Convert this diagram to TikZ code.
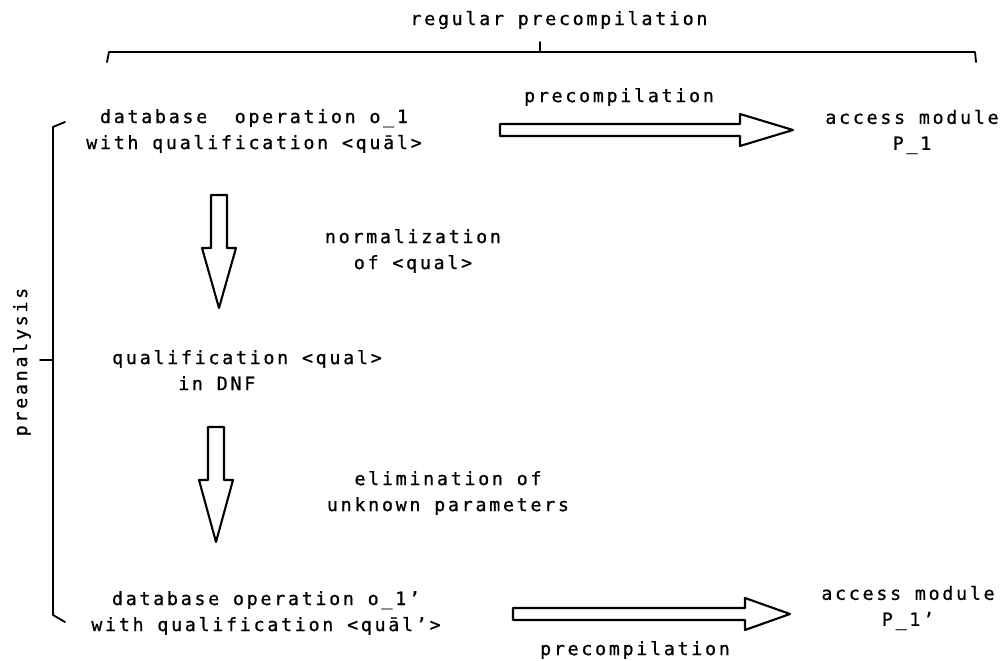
\documentclass[tikz,border=0pt]{standalone}
\usepackage{fontspec}
\setmonofont[LetterSpace=15, FakeBold=0.8]{DejaVu Sans Mono}
\usetikzlibrary{calc}
\tikzset{
	lbl/.style={font=\ttfamily\fontsize{13}{18.5}\selectfont, align=center, inner sep=0pt},
	fat/.style={line width=1.5pt, line join=round},
	brk/.style={line width=1.3pt, line join=round, line cap=round}
}
% hollow block arrows, from start point to tip, #3 = head length
\newcommand{\harrow}[3]{\draw[fat] ($(#1)+(0,-6)$) -- ($(#2)+(-#3,-6)$) -- ($(#2)+(-#3,-16)$) -- (#2) -- ($(#2)+(-#3,16)$) -- ($(#2)+(-#3,6)$) -- ($(#1)+(0,6)$) -- cycle;}
\newcommand{\varrow}[3]{\draw[fat] ($(#1)+(-8,0)$) -- ($(#2)+(-8,-#3)$) -- ($(#2)+(-17,-#3)$) -- (#2) -- ($(#2)+(17,-#3)$) -- ($(#2)+(8,-#3)$) -- ($(#1)+(8,0)$) -- cycle;}
\begin{document}
\begin{tikzpicture}[x=0.025cm, y=-0.025cm]
	\useasboundingbox (0,0) rectangle (1007,661);
	\node[lbl] (reg) at (559,20) {regular precompilation};
	\node[lbl] (op) at (254,131) {database\ \ operation o\_1\\with qualification <quāl>};
	\node[lbl] (acc) at (912,132) {access module\\P\_1};
	\node[lbl] (pre) at (619,97) {precompilation};
	\node[lbl] (norm) at (413,251) {normalization\\of <qual>};
	\node[lbl, align=left] (dnf) at (247,372) {qualification <qual>\\\phantom{quali}in DNF};
	\node[lbl] (elim) at (448,493) {elimination of\\unknown parameters};
	\node[lbl] (opx) at (266,613) {database operation o\_1’\\with qualification <quāl’>};
	\node[lbl] (accx) at (908,608) {access module\\P\_1’};
	\node[lbl] (prex) at (635,650) {precompilation};
	\node[lbl, rotate=90] (ana) at (22,362) {preanalysis};
	\path
		(500,130) coordinate (h1s)
		(793,130) coordinate (h1t)
		(513,614) coordinate (h2s)
		(790,614) coordinate (h2t)
		(219,195) coordinate (v1s)
		(219,308) coordinate (v1t)
		(216,427) coordinate (v2s)
		(216,542) coordinate (v2t)
	;
	% braces
	\draw[brk] (107,62) -- (109,52) -- (975,52) -- (976,62);
	\draw[brk] (540,52) -- (540,42);
	\draw[brk] (65,122) -- (53,127) -- (53,615) -- (65,622);
	\draw[brk] (53,360) -- (40,360);
	% block arrows
	\harrow{h1s}{h1t}{53}
	\harrow{h2s}{h2t}{45}
	\varrow{v1s}{v1t}{60}
	\varrow{v2s}{v2t}{62}
\end{tikzpicture}
\end{document}
